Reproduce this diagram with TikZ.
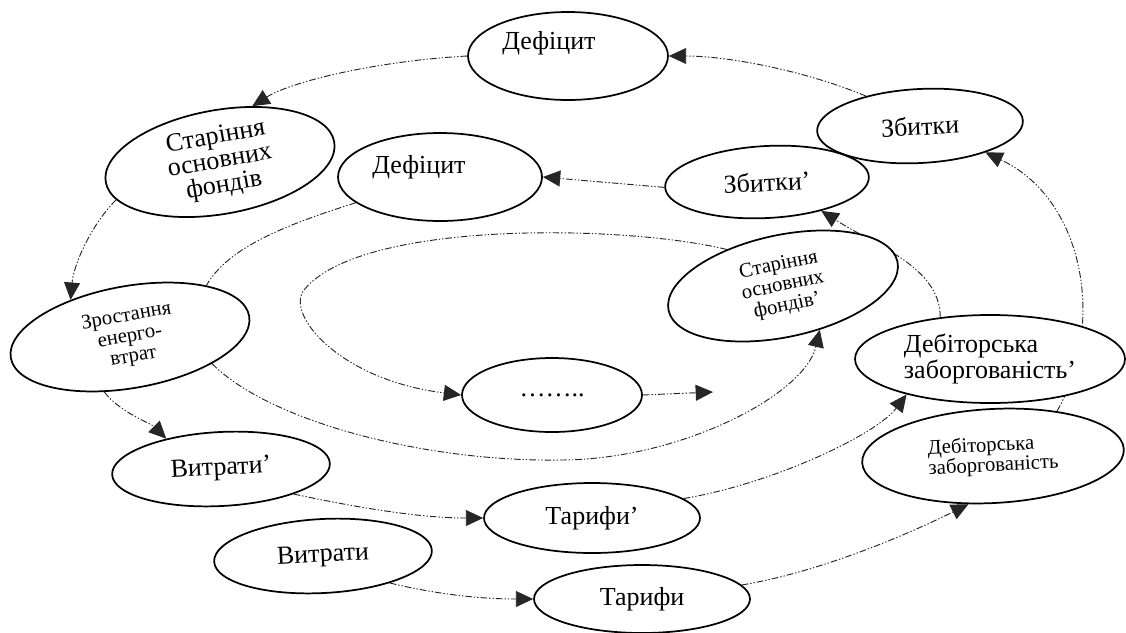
\documentclass[tikz,border=0pt]{standalone}
\usepackage{fontspec}
\setmainfont{Liberation Serif}
\usetikzlibrary{shapes.geometric,arrows.meta}
\pgfdeclarelayer{bg}
\pgfsetlayers{bg,main}
\tikzset{
  oval/.style={ellipse, draw, line width=1.3pt, fill=white, inner sep=0pt, align=center},
  sz/.style 2 args={minimum width=#1*1.5pt, minimum height=#2*1.5pt},
  big/.style={font=\fontsize{19.5pt}{18.5pt}\selectfont},
  sml/.style={font=\fontsize{15.5pt}{15.5pt}\selectfont},
  link/.style={line width=0.7pt, black!85,
    dash pattern=on 5pt off 1.5pt on 1pt off 1.5pt on 1pt off 1.5pt},
  flow/.style={link, -{Triangle[length=13pt,width=12pt]}},
}
\begin{document}
\begin{tikzpicture}[x=0.75pt, y=-0.75pt]
\useasboundingbox (0,0) rectangle (1126,632);

% outer ring
\node[oval, sz={100}{44}] (def1) at (568,56) {};
\node[big] (def1t) at (549,43) {Дефіцит};
\node[oval, big, sz={103}{37}, rotate=3] (zb1) at (920,126) {Збитки};
\node[oval, big, sz={116}{52}, rotate=10] (star1) at (220,162) {Старіння\\основних\\фондів};
\node[oval, sml, sz={121}{51}, rotate=10] (zr) at (130,337) {Зростання\\енерго-\\втрат};
\node[oval, big, sz={109}{37}, rotate=3] (vyt2) at (221,469) {Витрати’};
\node[oval, big, sz={108}{35}] (tar2) at (592,518) {Тарифи’};
\node[oval, sz={135}{44}, align=left, font=\fontsize{19.5pt}{19.5pt}\selectfont] (deb2) at (990,359) {Дебіторська\\заборгованість’};

% middle ring
\node[oval, sz={102}{44}] (def2) at (440,177) {};
\node[big] (def2t) at (419,167) {Дефіцит};
\node[oval, big, sz={102}{36}, rotate=3] (zb2) at (767,182) {Збитки’};
\node[oval, sml, sz={117}{51}, rotate=12] (star2) at (783,286) {Старіння\\основних\\фондів’};
\node[oval, big, sz={90}{37}] (dots) at (552,395) {……..};
\coordinate (freeend) at (713,392);

% bottom row
\node[oval, sz={131}{47}, rotate=3, align=left, font=\fontsize{15.5pt}{15pt}\selectfont] (deb1) at (993,456) {Дебіторська\\заборгованість};
\node[oval, big, sz={109}{37}, rotate=3] (vyt1) at (323,556) {Витрати};
\node[oval, big, sz={108}{34}] (tar1) at (642,599) {Тарифи};

\coordinate (lowmid) at (560,460);
\coordinate (innerleft) at (304,290);

\begin{pgfonlayer}{bg}
  % outer cycle
  \draw[flow] (zb1.148) .. controls +(-60,-25) and +(60,0) .. (def1.east);
  \draw[flow] (def1.west) .. controls +(-90,5) and +(40,-25) .. (star1.50);
  \draw[flow] (star1.190) .. controls +(-25,25) and +(3,-35) .. (zr.138);
  \draw[flow] (zr.235) .. controls +(15,20) and +(-15,-15) .. (vyt2.148);
  \draw[flow] (vyt2.338) .. controls +(70,15) and +(-60,0) .. (tar2.west);
  \draw[flow] (tar2.12) .. controls +(90,-15) and +(-30,40) .. (deb2.203);
  \draw[flow] (deb2.140) .. controls +(0,-50) and +(55,35) .. (zb2.329);
  \draw[flow] (zb2.west) -- (def2.east);
  % middle cycle
  \draw[link] (def2.197) .. controls +(-80,25) and +(20,-35) .. (zr.24);
  \draw[flow] (zr.332) .. controls +(60,60) and +(-130,2) .. (lowmid)
              .. controls +(120,0) and +(-15,65) .. (star2.298);
  % inner cycle
  \draw[flow] (star2.135) .. controls +(-103,-25) and +(56,-70) .. (innerleft)
              .. controls +(-19,24) and +(-122,-15) .. (dots.west);
  \draw[flow] (dots.east) -- (freeend);
  % bottom row
  \draw[flow] (vyt1.335) .. controls +(50,12) and +(-50,0) .. (tar1.west);
  \draw[flow] (tar1.8) .. controls +(90,-15) and +(-40,20) .. (deb1.240);
  \draw[flow] (deb1.32) .. controls +(48,-84) and +(101,48) .. (zb1.335);
\end{pgfonlayer}
\end{tikzpicture}
\end{document}
